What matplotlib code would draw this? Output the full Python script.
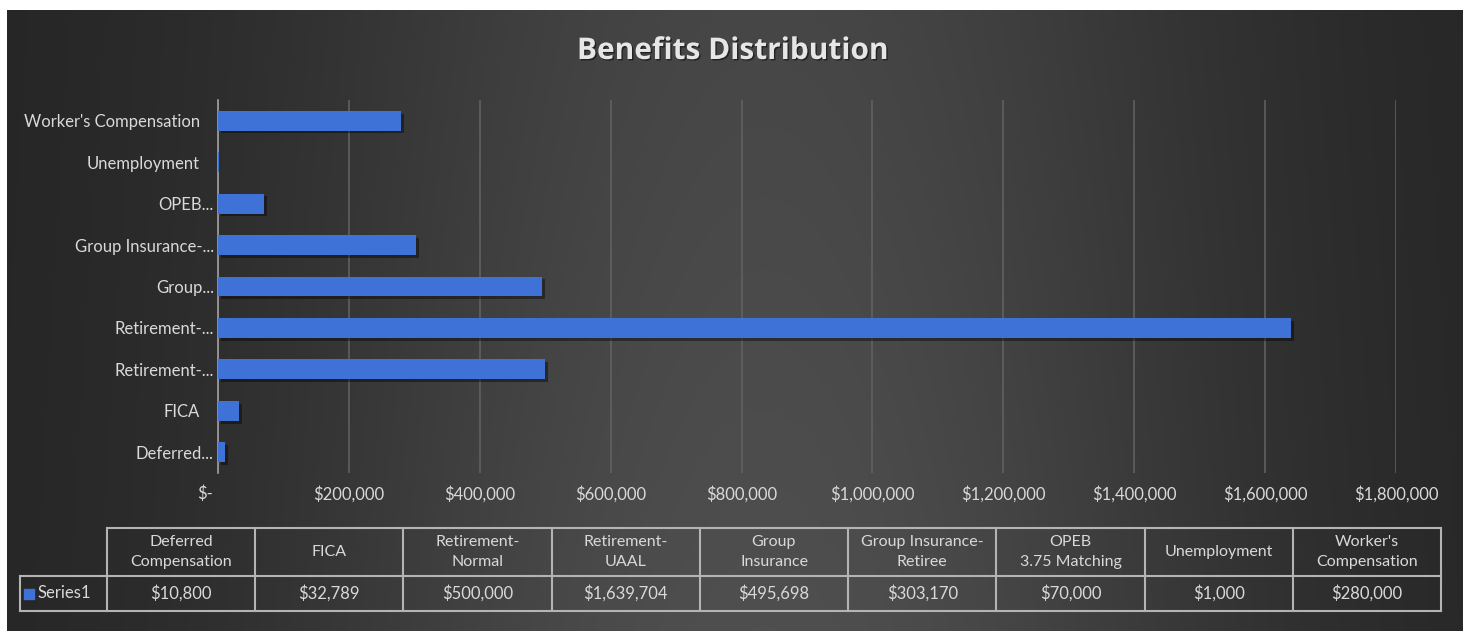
import numpy as np
import matplotlib
matplotlib.use("Agg")
import matplotlib.pyplot as plt
import matplotlib.patheffects as pe
from matplotlib.transforms import ScaledTranslation

# ---------------- data ----------------
categories = ["Deferred Compensation", "FICA", "Retirement-Normal", "Retirement-UAAL",
              "Group Insurance", "Group Insurance-Retiree", "OPEB 3.75 Matching",
              "Unemployment", "Worker's Compensation"]
axis_labels = ["Deferred...", "FICA", "Retirement-...", "Retirement-...", "Group...",
               "Group Insurance-...", "OPEB...", "Unemployment", "Worker's Compensation"]
table_headers = ["Deferred\nCompensation", "FICA", "Retirement-\nNormal", "Retirement-\nUAAL",
                 "Group\nInsurance", "Group Insurance-\nRetiree", "OPEB\n3.75 Matching",
                 "Unemployment", "Worker's\nCompensation"]
values = [10800, 32789, 500000, 1639704, 495698, 303170, 70000, 1000, 280000]
series_name = "Series1"
x_ticks = [0, 200000, 400000, 600000, 800000, 1000000, 1200000, 1400000, 1600000, 1800000]
title = "Benefits Distribution"

W, H = 1463, 631
TXT = "#d9d9d9"
BAR = "#3f72d6"
FONT = "Lato"

fig = plt.figure(figsize=(W / 100, H / 100), dpi=100)
fig.patch.set_facecolor("white")

# ---------------- gradient background ----------------
bg = fig.add_axes([7 / W, 0, 1 - 7 / W, 1 - 10 / H])
bg.set_axis_off()
xs = np.linspace(0, 1, 600)
ys = np.linspace(0, 1, 300)
X, Y = np.meshgrid(xs, ys)
lum = 0.14 + 0.17 * np.exp(-((X - 0.52) / 0.33) ** 2) * (0.8 + 0.2 * Y)
img = np.dstack([lum, lum, lum])
bg.imshow(img, aspect="auto", extent=[0, 1, 0, 1], origin="upper", interpolation="bilinear")
bg.set_xlim(0, 1)
bg.set_ylim(0, 1)

# ---------------- bar chart ----------------
left, right = 218 / W, 1396 / W
top, bottom = 1 - 100 / H, 1 - 473 / H
ax = fig.add_axes([left, bottom, right - left, top - bottom])
ax.set_facecolor("none")
ypos = np.arange(len(categories))
bars = ax.barh(ypos, values, height=0.48, color=BAR, zorder=3)
for b in bars:
    b.set_path_effects([pe.SimplePatchShadow(offset=(2, -2), shadow_rgbFace="black", alpha=0.4),
                        pe.Normal()])
ax.set_xlim(0, 1800000)
ax.set_ylim(-0.5, len(categories) - 0.5)
ax.set_xticks(x_ticks)
ax.set_xticklabels(["$-" if v == 0 else "${:,.0f}".format(v) for v in x_ticks],
                   fontsize=12, color=TXT, family=FONT)
ax.set_yticks(ypos)
ax.set_yticklabels(axis_labels, fontsize=12, color=TXT, family=FONT)
ax.tick_params(axis="both", length=0)
ax.tick_params(axis="x", pad=9)
ax.tick_params(axis="y", pad=3)
xl0 = ax.get_xticklabels()[0]
xl0.set_transform(xl0.get_transform() + ScaledTranslation(-13 / 100, 0, fig.dpi_scale_trans))
for lab in ax.get_yticklabels():
    if not lab.get_text().endswith("..."):
        lab.set_transform(lab.get_transform() + ScaledTranslation(-14 / 100, 0, fig.dpi_scale_trans))
for s in ["top", "right", "bottom"]:
    ax.spines[s].set_visible(False)
ax.spines["left"].set_color("#a0a0a0")
ax.spines["left"].set_linewidth(1.2)
ax.grid(axis="x", color="#636363", linewidth=1.1, zorder=0)
ax.set_axisbelow(True)

# ---------------- title ----------------
fig.text(733 / W, 1 - 51 / H, title, ha="center", va="center", fontsize=21.5,
         fontweight="bold", color="#e6e6e6", family="Open Sans",
         path_effects=[pe.withSimplePatchShadow(offset=(1, -1), shadow_rgbFace="black", alpha=0.5)])

# ---------------- data table ----------------
tx0, tx1 = 20, 1441
ty_top, ty_mid, ty_bot = 528, 576, 611
lab_w = 87
tab = fig.add_axes([0, 0, 1, 1])
tab.set_axis_off()
tab.set_xlim(0, W)
tab.set_ylim(H, 0)
n = len(categories)
col_w = (tx1 - (tx0 + lab_w)) / n
lc = "#b4b4b4"
lw = 1.5
x_first = tx0 + lab_w
# horizontal lines
tab.plot([x_first, tx1], [ty_top, ty_top], color=lc, lw=lw)
tab.plot([tx0, tx1], [ty_mid, ty_mid], color=lc, lw=lw)
tab.plot([tx0, tx1], [ty_bot, ty_bot], color=lc, lw=lw)
# vertical lines
tab.plot([tx0, tx0], [ty_mid, ty_bot], color=lc, lw=lw)
for i in range(n + 1):
    xv = x_first + i * col_w
    tab.plot([xv, xv], [ty_top, ty_bot], color=lc, lw=lw)
for i, (hdr, v) in enumerate(zip(table_headers, values)):
    xc = x_first + (i + 0.5) * col_w
    tab.text(xc, (ty_top + ty_mid) / 2, hdr, ha="center", va="center", fontsize=11.5,
             color=TXT, family=FONT, linespacing=1.6)
    tab.text(xc, (ty_mid + ty_bot) / 2, "${:,.0f}".format(v), ha="center", va="center",
             fontsize=12, color=TXT, family=FONT)
# legend key + series name
tab.add_patch(plt.Rectangle((tx0 + 4, (ty_mid + ty_bot) / 2 - 5), 10, 10, color=BAR))
tab.text(tx0 + 17, (ty_mid + ty_bot) / 2, series_name, ha="left", va="center",
         fontsize=12, color=TXT, family=FONT)

fig.savefig("out.png", dpi=100, facecolor=fig.get_facecolor())
